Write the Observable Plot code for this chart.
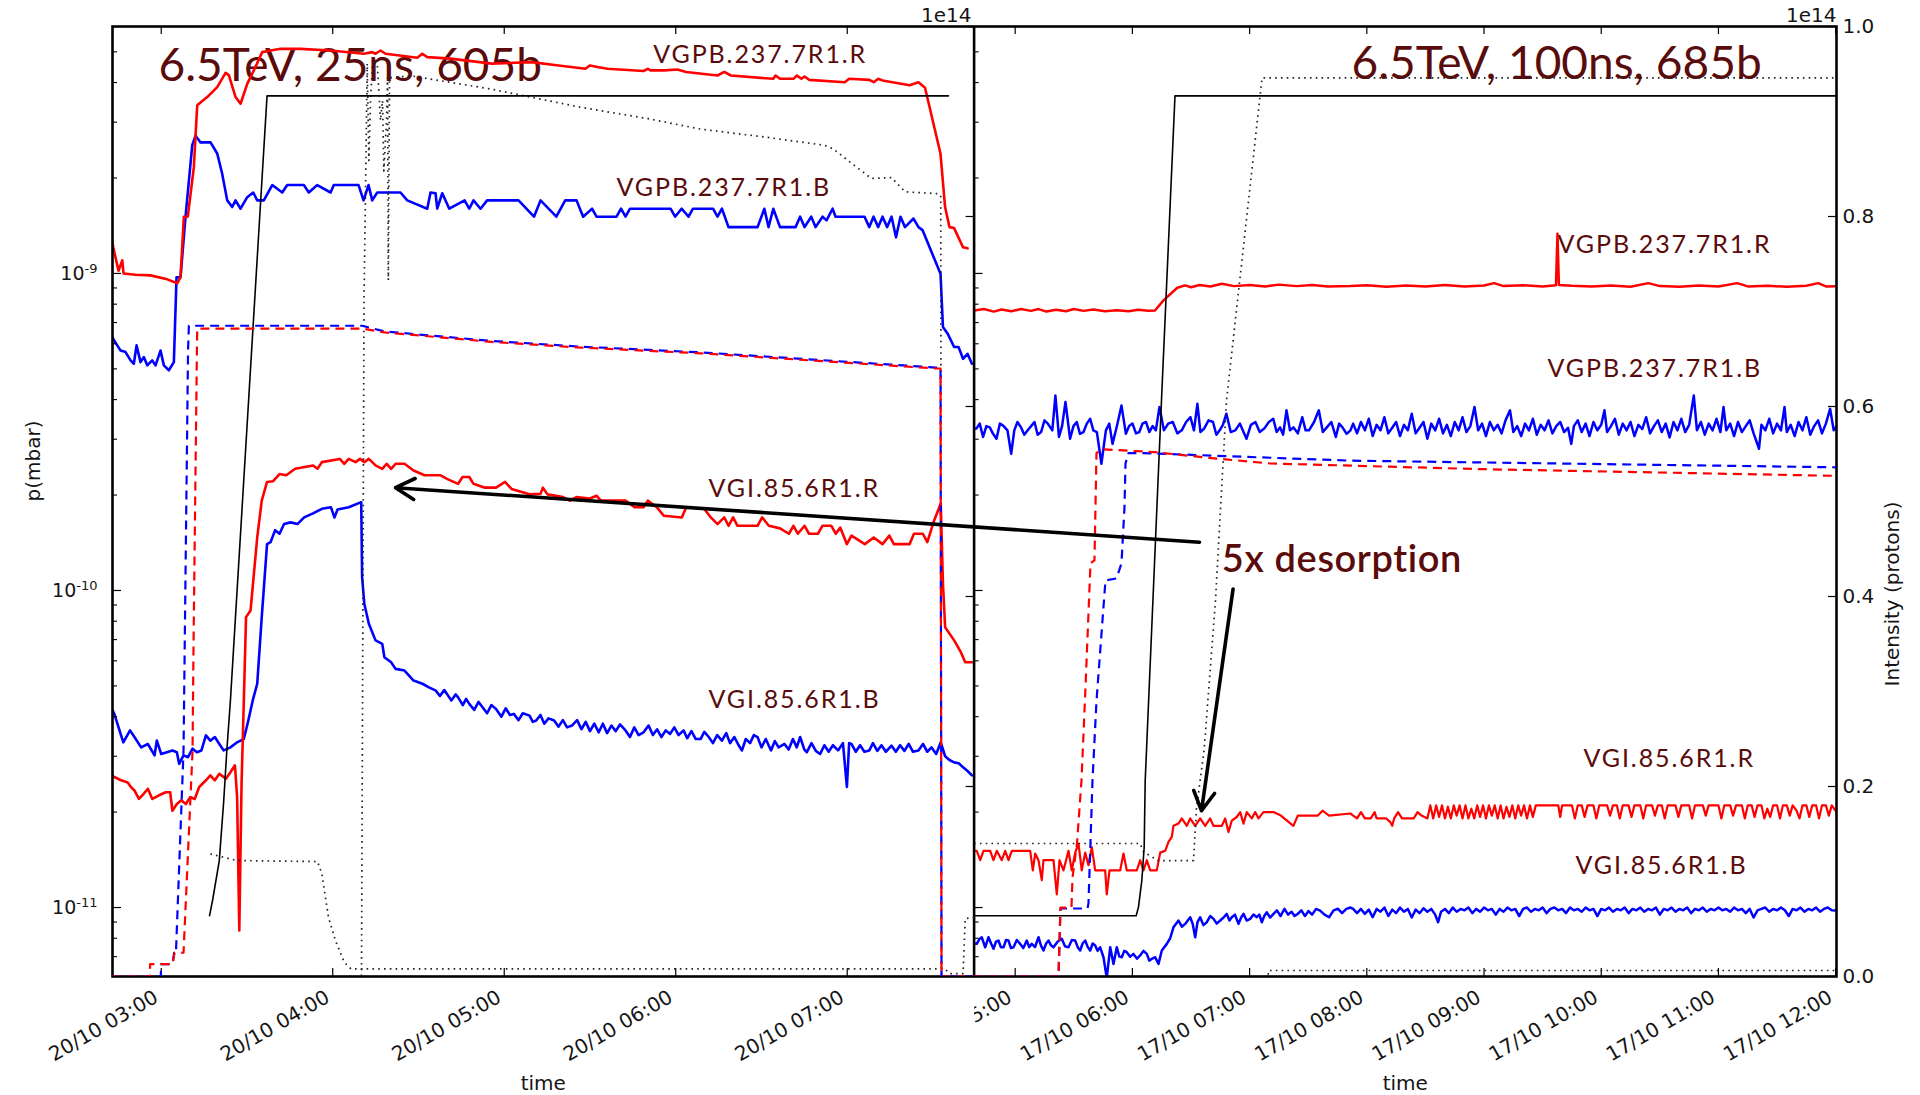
<!DOCTYPE html>
<html>
<head>
<meta charset="utf-8">
<title>Vacuum pressure and beam intensity</title>
<script src="https://cdn.jsdelivr.net/npm/d3@7"></script>
<script src="https://cdn.jsdelivr.net/npm/@observablehq/plot@0.6"></script>
<style>
html,body{margin:0;padding:0;background:#fff;}
#chart{position:relative;width:1920px;height:1095px;overflow:hidden;background:#fff;}
#chart svg{position:absolute;left:0;top:0;max-width:none;}
</style>
</head>
<body>
<div id="chart"></div>
<script>
// ---------------- data (time "HH:MM:SS" value pairs) ----------------
const S = str => { const t = str.trim().split(/\s+/), a = []; for (let i = 0; i < t.length; i += 2) a.push([t[i], +t[i + 1]]); return a; };

const dayL = "2015-10-20", dayR = "2015-10-17";
const domainL = ["02:42:57", "07:44:23"], domainR = ["04:38:58", "12:00:26"];
const ticksL = ["03:00", "04:00", "05:00", "06:00", "07:00"];
const ticksR = ["05:00", "06:00", "07:00", "08:00", "09:00", "10:00", "11:00", "12:00"];
const pDomain = [6.06e-12, 6.01e-9];
const logMajor = [1e-11, 1e-10, 1e-9];
const logMajorLabels = ["10^-11", "10^-10", "10^-9"];
const logMinor = [7e-12, 8e-12, 9e-12, 2e-11, 3e-11, 4e-11, 5e-11, 6e-11, 7e-11, 8e-11, 9e-11,
  2e-10, 3e-10, 4e-10, 5e-10, 6e-10, 7e-10, 8e-10, 9e-10, 2e-9, 3e-9, 4e-9, 5e-9];
const intTicks = [0, 0.2, 0.4, 0.6, 0.8, 1.0];
const intTickLabels = ["0.0", "0.2", "0.4", "0.6", "0.8", "1.0"];

// ---- 20/10, 25 ns, 605 bunches: pressures (mbar)
const L_VGPB_R = S(`02:42:57 1.25e-9 02:43:12 1.21e-9 02:45:04 1.02e-9 02:46:22 1.10e-9 02:46:49 1.00e-9 02:51:00 9.9e-10 02:56:15 9.86e-10 03:02:06 9.58e-10 03:05:36 9.31e-10 03:06:45 9.73e-10 03:07:55 1.51e-9 03:09:18 1.51e-9 03:11:24 2.16e-9 03:12:35 3.39e-9 03:16:05 3.60e-9 03:19:35 3.87e-9 03:22:30 4.29e-9 03:23:39 4.22e-9 03:26:00 3.60e-9 03:27:45 3.43e-9 03:30:05 3.96e-9 03:32:24 4.37e-9 03:35:20 4.99e-9 03:38:14 5.05e-9 03:41:44 5.11e-9 03:48:44 5.11e-9 03:59:14 5.05e-9 04:10:53 4.93e-9 04:13:49 4.99e-9 04:14:58 4.93e-9 04:16:43 5.05e-9 04:18:28 4.93e-9 04:29:34 4.79e-9 04:31:19 4.93e-9 04:33:04 4.81e-9 04:41:13 4.76e-9 04:55:36 4.59e-9 05:09:33 4.64e-9 05:19:00 4.53e-9 05:28:22 4.42e-9 05:29:57 4.53e-9 05:33:04 4.47e-9 05:36:08 4.42e-9 05:48:44 4.35e-9 05:50:14 4.42e-9 05:51:11 4.37e-9 05:55:52 4.37e-9 06:00:33 4.40e-9 06:03:40 4.32e-9 06:14:37 4.21e-9 06:16:58 4.32e-9 06:19:19 4.21e-9 06:34:08 4.11e-9 06:34:55 4.21e-9 06:36:29 4.11e-9 06:41:10 4.11e-9 06:42:24 4.21e-9 06:43:58 4.11e-9 06:45:04 4.18e-9 06:46:38 4.08e-9 06:59:07 4.01e-9 07:00:41 4.11e-9 07:07:43 4.08e-9 07:09:16 4.01e-9 07:10:50 4.11e-9 07:12:21 4.06e-9 07:21:48 3.92e-9 07:24:55 4.01e-9 07:27:13 3.85e-9 07:32:37 2.39e-9 07:34:14 1.62e-9 07:35:46 1.40e-9 07:37:23 1.39e-9 07:40:30 1.21e-9 07:42:06 1.20e-9`);

const L_VGPB_B = S(`02:42:57 6.3e-10 02:43:12 6.22e-10 02:45:46 5.71e-10 02:47:31 5.65e-10 02:49:16 5.32e-10 02:50:25 5.19e-10 02:51:22 5.93e-10 02:52:45 5.25e-10 02:53:55 5.45e-10 02:55:06 5.13e-10 02:56:51 5.32e-10 02:58:00 5.13e-10 02:59:45 5.71e-10 03:00:55 5.13e-10 03:02:40 4.95e-10 03:04:25 5.25e-10 03:05:21 9.73e-10 03:06:45 9.73e-10 03:08:30 1.51e-9 03:10:51 2.54e-9 03:12:00 2.72e-9 03:13:45 2.59e-9 03:17:15 2.59e-9 03:19:35 2.39e-9 03:21:20 2.06e-9 03:23:05 1.70e-9 03:24:50 1.62e-9 03:26:00 1.70e-9 03:27:45 1.60e-9 03:30:05 1.74e-9 03:32:11 1.80e-9 03:33:35 1.70e-9 03:35:53 1.70e-9 03:38:50 1.90e-9 03:42:20 1.80e-9 03:44:05 1.90e-9 03:49:53 1.90e-9 03:51:38 1.80e-9 03:54:35 1.90e-9 03:59:14 1.80e-9 04:00:23 1.90e-9 04:09:02 1.90e-9 04:10:47 1.70e-9 04:12:31 1.90e-9 04:13:49 1.70e-9 04:15:34 1.80e-9 04:23:43 1.80e-9 04:26:04 1.70e-9 04:33:04 1.60e-9 04:34:13 1.80e-9 04:35:58 1.79e-9 04:36:34 1.60e-9 04:38:19 1.79e-9 04:40:46 1.60e-9 04:46:07 1.70e-9 04:47:46 1.60e-9 04:49:15 1.70e-9 04:51:42 1.60e-9 04:54:01 1.70e-9 05:05:00 1.70e-9 05:10:25 1.51e-9 05:12:42 1.70e-9 05:18:14 1.51e-9 05:21:20 1.70e-9 05:25:18 1.70e-9 05:27:36 1.51e-9 05:30:43 1.60e-9 05:32:17 1.51e-9 05:39:17 1.51e-9 05:40:52 1.60e-9 05:42:26 1.51e-9 05:44:00 1.60e-9 05:58:11 1.60e-9 05:59:47 1.51e-9 06:02:02 1.60e-9 06:04:29 1.51e-9 06:06:01 1.60e-9 06:13:03 1.60e-9 06:14:37 1.51e-9 06:16:10 1.60e-9 06:18:28 1.40e-9 06:28:37 1.40e-9 06:31:00 1.60e-9 06:32:28 1.40e-9 06:34:08 1.60e-9 06:36:29 1.40e-9 06:41:55 1.40e-9 06:43:31 1.51e-9 06:45:04 1.40e-9 06:47:24 1.51e-9 06:48:55 1.40e-9 06:51:22 1.51e-9 06:52:46 1.47e-9 06:54:52 1.60e-9 06:55:55 1.51e-9 07:06:03 1.51e-9 07:07:43 1.40e-9 07:09:12 1.51e-9 07:10:50 1.40e-9 07:12:21 1.51e-9 07:13:58 1.40e-9 07:15:30 1.51e-9 07:17:04 1.30e-9 07:18:38 1.51e-9 07:20:13 1.40e-9 07:23:11 1.49e-9 07:24:56 1.40e-9 07:26:20 1.37e-9 07:32:38 9.98e-10 07:33:29 6.78e-10 07:35:05 6.47e-10 07:37:24 5.86e-10 07:38:56 5.86e-10 07:40:31 5.38e-10 07:42:05 5.58e-10 07:43:37 5.19e-10`);

const L_VGI_R = S(`02:42:57 2.6e-11 02:43:35 2.58e-11 02:45:56 2.52e-11 02:48:17 2.48e-11 02:49:24 2.40e-11 02:50:37 2.34e-11 02:52:12 2.20e-11 02:53:46 2.28e-11 02:55:19 2.37e-11 02:56:53 2.20e-11 02:59:14 2.26e-11 03:01:34 2.31e-11 03:03:07 2.31e-11 03:03:55 2.02e-11 03:05:28 2.12e-11 03:07:02 2.18e-11 03:08:36 2.12e-11 03:10:09 2.23e-11 03:11:43 2.20e-11 03:13:18 2.40e-11 03:15:38 2.52e-11 03:17:11 2.61e-11 03:18:45 2.52e-11 03:20:19 2.64e-11 03:22:38 2.55e-11 03:24:13 2.67e-11 03:25:47 2.81e-11 03:26:33 2.23e-11 03:27:19 8.46e-12 03:28:06 2.46e-11 03:28:54 4.50e-11 03:29:40 8.24e-11 03:31:15 8.65e-11 03:33:35 1.47e-10 03:35:10 1.92e-10 03:37:01 2.20e-10 03:39:03 2.21e-10 03:41:23 2.33e-10 03:43:44 2.31e-10 03:46:51 2.42e-10 03:53:06 2.48e-10 03:54:41 2.42e-10 03:56:13 2.54e-10 04:02:29 2.60e-10 04:04:02 2.51e-10 04:05:36 2.60e-10 04:07:59 2.54e-10 04:09:31 2.60e-10 04:11:03 2.54e-10 04:12:38 2.60e-10 04:14:58 2.48e-10 04:17:19 2.42e-10 04:18:53 2.51e-10 04:20:26 2.42e-10 04:21:58 2.51e-10 04:25:07 2.51e-10 04:28:16 2.39e-10 04:32:07 2.31e-10 04:37:36 2.31e-10 04:39:57 2.25e-10 04:43:52 2.17e-10 04:45:25 2.28e-10 04:47:46 2.28e-10 04:49:15 2.17e-10 04:53:15 2.11e-10 04:57:08 2.11e-10 05:00:17 2.20e-10 05:02:33 2.09e-10 05:08:51 2.01e-10 05:12:42 2.02e-10 05:13:32 2.11e-10 05:15:07 2.01e-10 05:20:34 1.97e-10 05:22:55 1.92e-10 05:25:15 1.97e-10 05:29:57 1.95e-10 05:32:17 1.99e-10 05:33:50 1.92e-10 05:42:26 1.92e-10 05:45:35 1.83e-10 05:48:44 1.83e-10 05:50:14 1.92e-10 05:53:22 1.83e-10 05:55:52 1.72e-10 06:02:07 1.70e-10 06:03:40 1.83e-10 06:09:56 1.81e-10 06:12:17 1.70e-10 06:14:37 1.62e-10 06:16:58 1.70e-10 06:18:28 1.60e-10 06:20:05 1.70e-10 06:21:37 1.60e-10 06:28:37 1.60e-10 06:30:13 1.70e-10 06:32:34 1.60e-10 06:36:29 1.57e-10 06:39:36 1.51e-10 06:41:10 1.60e-10 06:42:43 1.51e-10 06:45:04 1.60e-10 06:46:38 1.51e-10 06:49:44 1.51e-10 06:51:19 1.60e-10 06:54:26 1.60e-10 06:56:00 1.51e-10 06:57:33 1.58e-10 06:59:53 1.40e-10 07:01:28 1.49e-10 07:06:09 1.40e-10 07:09:16 1.47e-10 07:12:21 1.40e-10 07:14:44 1.49e-10 07:16:18 1.40e-10 07:21:48 1.40e-10 07:23:20 1.51e-10 07:26:27 1.51e-10 07:28:01 1.42e-10 07:30:22 1.66e-10 07:32:43 1.88e-10 07:33:29 1.05e-10 07:34:15 7.66e-11 07:37:24 6.96e-11 07:39:45 6.39e-11 07:41:17 5.94e-11 07:43:37 5.94e-11`);

const L_VGI_B = S(`02:42:57 4.2e-11 02:43:35 4.08e-11 02:46:44 3.32e-11 02:49:05 3.62e-11 02:50:37 3.45e-11 02:52:58 3.20e-11 02:55:19 3.28e-11 02:57:40 3.02e-11 02:58:27 3.36e-11 03:00:00 3.05e-11 03:03:55 3.13e-11 03:05:28 3.09e-11 03:06:16 2.84e-11 03:07:48 3.02e-11 03:09:23 2.98e-11 03:10:57 3.17e-11 03:12:29 3.09e-11 03:14:04 3.13e-11 03:15:38 3.49e-11 03:17:11 3.36e-11 03:18:45 3.45e-11 03:20:19 3.28e-11 03:21:52 3.13e-11 03:24:13 3.20e-11 03:26:33 3.32e-11 03:28:54 3.40e-11 03:30:28 3.89e-11 03:32:01 4.50e-11 03:33:35 5.08e-11 03:35:10 8.24e-11 03:37:01 1.40e-10 03:38:14 1.42e-10 03:39:51 1.55e-10 03:41:23 1.51e-10 03:42:58 1.62e-10 03:45:18 1.64e-10 03:47:39 1.62e-10 03:50:00 1.70e-10 03:53:06 1.75e-10 03:56:13 1.81e-10 03:59:22 1.83e-10 04:00:35 1.70e-10 04:01:41 1.80e-10 04:05:36 1.83e-10 04:09:58 1.90e-10 04:10:17 1.10e-10 04:11:03 9.08e-11 04:12:38 7.85e-11 04:14:58 6.96e-11 04:17:19 6.79e-11 04:18:05 6.16e-11 04:20:26 5.94e-11 04:21:58 5.66e-11 04:25:07 5.59e-11 04:28:16 5.20e-11 04:31:23 5.08e-11 04:33:40 4.95e-11 04:36:04 4.83e-11 04:37:30 4.65e-11 04:39:00 4.85e-11 04:39:57 4.72e-11 04:41:30 4.50e-11 04:43:00 4.70e-11 04:43:52 4.60e-11 04:45:30 4.35e-11 04:46:40 4.55e-11 04:47:46 4.39e-11 04:49:30 4.20e-11 04:51:00 4.45e-11 04:52:25 4.28e-11 04:54:00 4.10e-11 04:55:30 4.35e-11 04:57:08 4.23e-11 04:59:00 4.00e-11 05:00:30 4.25e-11 05:02:00 4.05e-11 05:03:23 4.08e-11 05:05:00 3.90e-11 05:06:30 4.10e-11 05:08:51 4.03e-11 05:10:00 3.85e-11 05:11:11 3.89e-11 05:12:40 4.05e-11 05:14:00 3.80e-11 05:15:30 3.95e-11 05:17:28 3.89e-11 05:19:00 3.72e-11 05:20:30 3.90e-11 05:22:00 3.70e-11 05:23:41 3.75e-11 05:25:30 3.90e-11 05:27:00 3.65e-11 05:28:30 3.85e-11 05:30:00 3.60e-11 05:31:30 3.80e-11 05:33:04 3.57e-11 05:34:30 3.80e-11 05:36:00 3.55e-11 05:37:30 3.75e-11 05:39:00 3.60e-11 05:40:30 3.78e-11 05:42:26 3.62e-11 05:44:00 3.45e-11 05:45:30 3.70e-11 05:47:00 3.50e-11 05:48:44 3.57e-11 05:50:30 3.75e-11 05:52:00 3.50e-11 05:53:30 3.65e-11 05:55:00 3.45e-11 05:56:30 3.62e-11 05:58:02 3.53e-11 05:59:30 3.70e-11 06:01:00 3.50e-11 06:02:44 3.62e-11 06:04:00 3.42e-11 06:05:30 3.60e-11 06:07:00 3.40e-11 06:08:41 3.40e-11 06:10:00 3.58e-11 06:11:33 3.45e-11 06:13:00 3.30e-11 06:14:30 3.50e-11 06:16:10 3.36e-11 06:17:40 3.55e-11 06:19:00 3.30e-11 06:20:30 3.45e-11 06:22:00 3.25e-11 06:23:11 3.13e-11 06:24:30 3.40e-11 06:26:00 3.30e-11 06:27:20 3.50e-11 06:28:37 3.45e-11 06:30:00 3.20e-11 06:31:30 3.40e-11 06:33:20 3.13e-11 06:34:40 3.35e-11 06:36:00 3.20e-11 06:38:04 3.28e-11 06:39:30 3.15e-11 06:41:00 3.40e-11 06:42:20 3.20e-11 06:43:31 3.45e-11 06:45:00 3.15e-11 06:45:51 3.09e-11 06:47:30 3.30e-11 06:49:00 3.12e-11 06:50:31 3.05e-11 06:52:00 3.25e-11 06:53:30 3.10e-11 06:55:00 3.25e-11 06:56:47 3.13e-11 06:58:30 3.30e-11 06:59:53 2.40e-11 07:00:40 3.30e-11 07:01:28 3.28e-11 07:03:00 3.10e-11 07:04:30 3.25e-11 07:06:00 3.10e-11 07:07:43 3.13e-11 07:09:00 3.30e-11 07:10:30 3.12e-11 07:12:00 3.25e-11 07:13:30 3.10e-11 07:15:30 3.24e-11 07:17:00 3.10e-11 07:18:30 3.25e-11 07:20:00 3.12e-11 07:21:30 3.28e-11 07:23:00 3.10e-11 07:24:55 3.13e-11 07:26:30 3.28e-11 07:28:00 3.10e-11 07:29:30 3.20e-11 07:31:08 3.05e-11 07:32:43 3.32e-11 07:34:15 3.00e-11 07:35:46 2.92e-11 07:37:24 2.87e-11 07:39:00 2.85e-11 07:40:31 2.77e-11 07:42:00 2.70e-11 07:43:37 2.61e-11`);

// ---- 20/10: read on the intensity axis (units of 1e14)
const L_B1 = S(`02:42:57 0 02:56:00 0 02:56:07 0.013 03:03:55 0.013 03:04:41 0.025 03:07:48 0.025 03:10:57 0.237 03:11:18 0.35 03:12:29 0.659 03:12:36 0.682 04:10:17 0.682 04:18:07 0.678 04:55:36 0.668 05:26:41 0.662 06:08:41 0.656 07:31:08 0.640 07:32:38 0.640 07:32:59 0 07:44:23 0`);
const L_B2 = S(`02:42:57 0 02:59:50 0 03:00:00 0.013 03:04:00 0.013 03:04:30 0.025 03:05:08 0.024 03:07:48 0.238 03:09:23 0.659 03:09:40 0.685 04:10:17 0.685 04:18:07 0.679 04:55:36 0.669 05:26:41 0.663 06:08:41 0.657 07:31:08 0.641 07:32:38 0.641 07:32:59 0 07:44:23 0`);
const L_ENERGY = S(`03:16:54 0.064 03:17:57 0.080 03:20:19 0.122 03:21:52 0.185 03:22:57 0.238 03:24:13 0.291 03:37:01 0.927 07:35:26 0.927`);
const L_DOT_A = S(`03:17:11 0.129 03:26:33 0.122 03:54:41 0.121 03:56:13 0.108 03:58:32 0.062 04:00:55 0.038 04:04:02 0.015 04:06:22 0.008 07:34:15 0.008 07:35:46 0.003 07:40:31 0.003 07:41:17 0.061 07:44:23 0.062`);
const L_DOT_B = S(`02:42:57 0 04:10:04 0 04:10:57 0.712 04:12:04 0.961 04:12:38 0.859 04:13:13 0.922 04:13:55 0.961 04:15:34 0.961 04:16:43 0.901 04:17:25 0.922 04:17:53 0.848 04:18:49 0.901 04:19:11 0.946 04:19:27 0.733 04:19:52 0.946 04:27:28 0.948 04:55:36 0.934 05:26:41 0.915 05:50:14 0.903 06:08:41 0.892 06:30:13 0.884 06:52:03 0.875 06:55:12 0.871 07:01:30 0.856 07:08:29 0.840 07:15:30 0.841 07:20:13 0.826 07:31:56 0.824 07:32:43 0.822 07:32:59 0 07:44:23 0`);

// ---- 17/10, 100 ns, 685 bunches: pressures (mbar)
const R_VGPB_R = S(`04:38:58 7.64e-10 04:44:00 7.72e-10 04:49:00 7.58e-10 04:53:00 7.70e-10 04:58:00 7.60e-10 05:03:00 7.72e-10 05:08:00 7.62e-10 05:12:00 7.72e-10 05:16:00 7.58e-10 05:21:00 7.68e-10 05:26:00 7.60e-10 05:30:00 7.72e-10 05:35:00 7.62e-10 05:40:00 7.70e-10 05:46:00 7.60e-10 05:52:00 7.66e-10 05:58:00 7.60e-10 06:03:00 7.68e-10 06:08:00 7.62e-10 06:11:34 7.64e-10 06:15:55 8.22e-10 06:22:59 9.01e-10 06:27:00 9.17e-10 06:30:00 9.05e-10 06:34:21 9.20e-10 06:40:00 9.10e-10 06:45:49 9.28e-10 06:52:00 9.12e-10 07:00:00 9.20e-10 07:08:00 9.10e-10 07:15:00 9.22e-10 07:24:00 9.12e-10 07:32:00 9.20e-10 07:40:00 9.10e-10 07:51:38 9.12e-10 08:00:00 9.18e-10 08:10:00 9.08e-10 08:20:00 9.16e-10 08:30:00 9.10e-10 08:40:00 9.20e-10 08:50:00 9.10e-10 09:00:00 9.16e-10 09:05:12 9.32e-10 09:10:00 9.12e-10 09:20:00 9.18e-10 09:30:00 9.10e-10 09:36:50 9.17e-10 09:37:36 1.334e-9 09:38:20 9.20e-10 09:45:00 9.14e-10 09:55:00 9.10e-10 10:05:00 9.16e-10 10:15:00 9.08e-10 10:24:06 9.32e-10 10:30:00 9.12e-10 10:40:00 9.08e-10 10:50:00 9.16e-10 11:00:00 9.10e-10 11:09:36 9.32e-10 11:15:00 9.10e-10 11:25:00 9.14e-10 11:35:00 9.08e-10 11:45:00 9.14e-10 11:51:06 9.32e-10 11:55:00 9.10e-10 12:00:26 9.12e-10`);

const R_VGPB_B = S(`04:38:58 3.24e-10 04:40:08 3.24e-10 04:41:50 3.36e-10 04:43:34 3.05e-10 04:45:15 3.30e-10 04:47:00 3.27e-10 04:48:40 3.12e-10 04:50:26 3.01e-10 04:52:10 3.36e-10 04:53:51 3.31e-10 04:56:03 3.20e-10 04:57:57 2.70e-10 04:59:32 3.20e-10 05:01:10 3.40e-10 05:02:58 3.27e-10 05:04:40 3.10e-10 05:06:24 3.20e-10 05:08:10 3.30e-10 05:09:53 3.40e-10 05:11:30 3.10e-10 05:13:16 3.16e-10 05:15:00 3.44e-10 05:16:41 3.36e-10 05:19:00 3.20e-10 05:20:35 4.12e-10 05:22:25 3.05e-10 05:24:00 3.30e-10 05:25:45 3.93e-10 05:28:06 3.01e-10 05:29:50 3.30e-10 05:31:32 3.40e-10 05:33:10 3.12e-10 05:34:58 3.16e-10 05:36:40 3.36e-10 05:38:23 3.48e-10 05:40:00 3.20e-10 05:41:49 3.16e-10 05:44:08 2.51e-10 05:46:26 3.20e-10 05:48:10 3.36e-10 05:49:49 2.90e-10 05:52:07 3.31e-10 05:54:25 3.83e-10 05:56:40 3.12e-10 05:58:20 3.30e-10 06:00:03 3.36e-10 06:01:50 3.13e-10 06:03:32 3.16e-10 06:05:10 3.36e-10 06:06:58 3.40e-10 06:08:40 3.16e-10 06:10:20 3.30e-10 06:12:00 3.20e-10 06:13:52 3.79e-10 06:16:07 3.20e-10 06:18:20 3.36e-10 06:20:41 3.40e-10 06:23:00 3.13e-10 06:25:16 3.20e-10 06:27:30 3.40e-10 06:29:44 3.52e-10 06:31:30 3.20e-10 06:33:16 3.88e-10 06:34:50 3.16e-10 06:36:42 3.24e-10 06:39:00 3.44e-10 06:41:15 3.40e-10 06:43:00 3.10e-10 06:44:41 3.20e-10 06:46:20 3.33e-10 06:48:07 3.61e-10 06:50:20 3.16e-10 06:52:40 3.20e-10 06:55:00 3.36e-10 06:58:24 3.01e-10 07:00:40 3.33e-10 07:02:58 3.40e-10 07:05:10 3.16e-10 07:07:31 3.24e-10 07:09:50 3.40e-10 07:12:07 3.48e-10 07:13:50 3.16e-10 07:15:33 3.27e-10 07:17:10 3.10e-10 07:18:53 3.70e-10 07:20:40 3.20e-10 07:22:25 3.27e-10 07:24:40 3.13e-10 07:26:58 3.52e-10 07:28:40 3.20e-10 07:30:24 3.20e-10 07:33:00 3.40e-10 07:35:25 3.70e-10 07:37:30 3.16e-10 07:39:31 3.27e-10 07:41:50 3.40e-10 07:44:07 3.05e-10 07:45:50 3.36e-10 07:47:33 3.27e-10 07:49:40 3.12e-10 07:51:38 3.20e-10
07:53 3.36e-10 07:55 3.13e-10 07:57 3.40e-10 07:59 3.20e-10 08:01 3.48e-10 08:03 3.07e-10 08:05 3.33e-10 08:07 3.20e-10 08:09 3.52e-10 08:11 3.13e-10 08:13 3.26e-10 08:15 3.40e-10 08:17 3.07e-10 08:19 3.33e-10 08:21 3.20e-10 08:23 3.61e-10 08:25 3.13e-10 08:27 3.26e-10 08:29 3.40e-10 08:31 3.01e-10 08:33 3.36e-10 08:35 3.20e-10 08:37 3.48e-10 08:39 3.13e-10 08:41 3.33e-10 08:43 3.07e-10 08:45 3.40e-10 08:47 3.20e-10 08:49 3.52e-10 08:51 3.16e-10 08:53 3.30e-10 08:55:07 3.79e-10 08:57 3.20e-10 08:59 3.36e-10 09:01 3.07e-10 09:03 3.40e-10 09:05 3.20e-10 09:07 3.33e-10 09:09 3.13e-10 09:11 3.44e-10 09:13:18 3.70e-10 09:15 3.16e-10 09:17 3.30e-10 09:19 3.07e-10 09:21 3.36e-10 09:23 3.20e-10 09:25 3.48e-10 09:27 3.10e-10 09:29 3.33e-10 09:31 3.20e-10 09:33 3.44e-10 09:35 3.13e-10 09:37 3.30e-10 09:39 3.40e-10 09:41 3.16e-10 09:43 3.26e-10 09:44:40 2.90e-10 09:46 3.30e-10 09:48 3.44e-10 09:50 3.16e-10 09:52 3.36e-10 09:54 3.07e-10 09:56 3.40e-10 09:58 3.20e-10 10:00 3.33e-10 10:01:40 3.70e-10 10:03 3.16e-10 10:05 3.30e-10 10:07 3.48e-10 10:09 3.10e-10 10:11 3.36e-10 10:13 3.20e-10 10:15 3.40e-10 10:17 3.07e-10 10:19 3.33e-10 10:21 3.23e-10 10:23 3.52e-10 10:25 3.13e-10 10:27 3.30e-10 10:29 3.44e-10 10:31 3.16e-10 10:33 3.36e-10 10:35 3.04e-10 10:37 3.40e-10 10:39 3.20e-10 10:41 3.48e-10 10:43 3.16e-10 10:45 3.33e-10 10:47:23 4.12e-10 10:49 3.20e-10 10:51 3.40e-10 10:53 3.10e-10 10:55 3.36e-10 10:57 3.20e-10 10:59 3.48e-10 11:01 3.16e-10 11:02:36 3.79e-10 11:04 3.20e-10 11:06 3.36e-10 11:08 3.07e-10 11:10 3.40e-10 11:12 3.16e-10 11:14 3.30e-10 11:16 3.44e-10 11:18 3.13e-10 11:20:46 2.80e-10 11:22 3.33e-10 11:24 3.20e-10 11:26 3.48e-10 11:28 3.13e-10 11:30 3.36e-10 11:32 3.20e-10 11:33:50 3.79e-10 11:35 3.16e-10 11:37 3.33e-10 11:39 3.07e-10 11:41 3.40e-10 11:43 3.20e-10 11:45 3.52e-10 11:47 3.10e-10 11:49 3.30e-10 11:51 3.44e-10 11:53 3.13e-10 11:55 3.36e-10 11:57:10 3.74e-10 11:59 3.20e-10 12:00:26 3.30e-10`);

const R_VGI_R = S(`04:38:58 1.51e-11 04:40:20 1.51e-11 04:42:05 1.41e-11 04:43:46 1.51e-11 04:47:12 1.51e-11 04:48:53 1.41e-11 04:50:35 1.51e-11 04:53:08 1.41e-11 04:54:53 1.51e-11 04:56:34 1.41e-11 04:58:16 1.51e-11 05:07:41 1.51e-11 05:09:01 1.31e-11 05:10:14 1.48e-11 05:11:56 1.41e-11 05:13:37 1.22e-11 05:14:29 1.41e-11 05:19:37 1.41e-11 05:21:18 1.10e-11 05:22:41 1.41e-11 05:24:44 1.31e-11 05:27:17 1.51e-11 05:28:58 1.31e-11 05:30:43 1.49e-11 05:32:24 1.59e-11 05:34:05 1.31e-11 05:35:50 1.49e-11 05:37:31 1.36e-11 05:39:13 1.55e-11 05:40:57 1.31e-11 05:46:04 1.31e-11 05:46:53 1.10e-11 05:48:16 1.31e-11 05:53:45 1.31e-11 05:55:26 1.48e-11 05:57:08 1.31e-11 06:02:15 1.31e-11 06:03:59 1.41e-11 06:05:41 1.31e-11 06:07:22 1.41e-11 06:09:07 1.31e-11 06:12:29 1.31e-11 06:14:14 1.49e-11 06:16:47 1.51e-11 06:18:29 1.61e-11 06:20:10 1.67e-11 06:21:02 1.81e-11 06:23:36 1.84e-11 06:25:17 1.91e-11 06:27:51 1.81e-11 06:29:35 1.91e-11 06:32:09 1.81e-11 06:34:42 1.91e-11 06:37:16 1.81e-11 06:39:49 1.91e-11 06:41:31 1.81e-11 06:45:46 1.81e-11 06:47:30 1.91e-11 06:49:11 1.73e-11 06:50:53 1.88e-11 06:53:26 1.93e-11 06:55:11 2.00e-11 06:56:52 1.84e-11 06:58:33 2.00e-11 07:01:07 1.91e-11 07:02:51 2.00e-11 07:04:33 1.91e-11 07:07:06 2.00e-11 07:12:14 2.00e-11 07:16:00 1.95e-11 07:22:25 1.81e-11 07:24:40 1.95e-11 07:34:57 1.95e-11 07:37:19 2.02e-11 07:40:41 1.95e-11 07:51:38 1.98e-11
07:53 1.95e-11 07:55 1.91e-11 07:57 2.00e-11 07:59 1.91e-11 08:02 1.91e-11 08:04 2.00e-11 08:05 1.91e-11 08:10 1.91e-11 08:12 1.86e-11 08:13 1.81e-11 08:14 1.91e-11 08:16 2.00e-11 08:18 1.91e-11 08:24 1.91e-11 08:26 2.00e-11 08:28 1.95e-11 08:31 1.91e-11
08:32:30 2.10e-11 08:34 1.91e-11 08:35:30 2.10e-11 08:37 1.93e-11 08:38:30 2.10e-11 08:40 1.91e-11 08:41:30 2.08e-11 08:43 1.91e-11 08:44:30 2.10e-11 08:46 1.95e-11 08:47:30 2.10e-11 08:49 1.91e-11 08:50:30 2.10e-11 08:52 1.91e-11 08:53:30 2.05e-11 08:55 1.91e-11 08:56:30 2.10e-11 08:58 1.93e-11 08:59:30 2.10e-11 09:01 1.91e-11 09:02:30 2.10e-11 09:04 1.95e-11 09:05:30 2.10e-11 09:07 1.91e-11 09:08:30 2.10e-11 09:10 1.91e-11 09:11:30 2.08e-11 09:13 1.93e-11 09:14:30 2.10e-11 09:16 1.91e-11 09:17:30 2.10e-11 09:19 1.95e-11 09:20:30 2.10e-11 09:22 1.91e-11 09:23:30 2.10e-11 09:25 1.93e-11 09:26:30 2.10e-11
09:38 2.10e-11 09:39 1.93e-11 09:40 2.10e-11 09:45 2.10e-11 09:46:30 1.91e-11 09:48 2.10e-11 09:50 2.10e-11 09:51:30 1.93e-11 09:53 2.10e-11 09:56 2.10e-11 09:57:30 1.91e-11 09:59 2.10e-11 10:03 2.10e-11 10:04:30 1.95e-11 10:06 2.10e-11 10:08 2.10e-11 10:09:30 1.91e-11 10:11 2.10e-11 10:14 2.10e-11 10:15:30 1.93e-11 10:17 2.10e-11 10:20 2.10e-11 10:21:30 1.91e-11 10:23 2.10e-11 10:26 2.10e-11 10:27:30 1.95e-11 10:29 2.10e-11 10:31 2.10e-11 10:32:30 1.91e-11 10:34 2.10e-11 10:38 2.10e-11 10:39:30 1.93e-11 10:41 2.10e-11 10:45 2.10e-11 10:46:30 1.91e-11 10:48 2.10e-11 10:52 2.10e-11 10:53:30 1.95e-11 10:55 2.10e-11 11:00 2.10e-11 11:01:30 1.91e-11 11:03 2.10e-11 11:06 2.10e-11 11:07:30 1.95e-11 11:09 2.10e-11 11:12 2.10e-11 11:13:30 1.91e-11 11:15 2.10e-11 11:17 2.10e-11 11:18:30 1.93e-11 11:20 2.10e-11 11:22 2.10e-11 11:23:30 1.91e-11 11:25 2.05e-11 11:26:30 1.93e-11 11:28 2.10e-11 11:30 2.10e-11 11:31:30 1.91e-11 11:33 2.10e-11 11:35 2.10e-11 11:36:30 1.95e-11 11:38 2.10e-11 11:40 2.02e-11 11:41:30 1.91e-11 11:43 2.10e-11 11:45 2.10e-11 11:46:30 1.93e-11 11:48 2.10e-11 11:50 2.10e-11 11:51:30 1.91e-11 11:53 2.10e-11 11:55 2.10e-11 11:56:30 1.95e-11 11:58 2.10e-11 12:00:26 2.00e-11`);

const R_VGI_B = S(`04:38:58 7.7e-12 04:40:20 7.68e-12 04:41:40 7.95e-12 04:42:54 8.06e-12 04:44:38 7.49e-12 04:46:20 8.06e-12 04:47:40 7.7e-12 04:48:53 7.41e-12 04:50:10 7.8e-12 04:51:27 7.87e-12 04:52:40 7.5e-12 04:54:01 7.49e-12 04:55:20 7.9e-12 04:56:34 7.87e-12 04:57:50 7.45e-12 04:59:08 7.49e-12 05:00:50 7.9e-12 05:02:34 7.68e-12 05:04:10 7.45e-12 05:05:56 7.87e-12 05:07:10 7.5e-12 05:08:30 7.68e-12 05:10:10 7.5e-12 05:11:56 8.06e-12 05:13:10 7.6e-12 05:14:29 7.32e-12 05:15:50 7.7e-12 05:17:03 7.87e-12 05:18:20 7.6e-12 05:19:37 7.49e-12 05:21:40 7.8e-12 05:23:51 7.97e-12 05:25:30 7.55e-12 05:27:17 7.49e-12 05:29:00 7.9e-12 05:30:43 7.87e-12 05:32:00 7.5e-12 05:33:16 7.32e-12 05:34:30 7.7e-12 05:35:50 7.87e-12 05:37:10 7.5e-12 05:38:23 7.32e-12 05:39:40 7.7e-12 05:40:57 7.59e-12 05:42:10 7.3e-12 05:43:31 7.49e-12 05:45:12 6.97e-12 05:46:53 6.0e-12 05:48:38 7.49e-12 05:50:19 6.64e-12 05:52:01 7.49e-12 05:53:20 7.0e-12 05:54:34 6.97e-12 05:55:50 7.3e-12 05:57:08 7.23e-12 05:58:50 7.0e-12 06:00:33 7.14e-12 06:02:20 6.9e-12 06:03:59 7.06e-12 06:05:40 7.3e-12 06:07:22 7.14e-12 06:08:40 6.8e-12 06:09:56 6.89e-12 06:11:40 6.97e-12 06:13:22 6.64e-12 06:15:03 7.32e-12 06:17:37 7.68e-12 06:19:20 8.0e-12 06:21:02 8.66e-12 06:23:36 9.10e-12 06:25:20 8.7e-12 06:27:01 8.88e-12 06:29:35 9.32e-12 06:30:50 8.9e-12 06:32:09 8.06e-12 06:33:20 9.0e-12 06:34:42 9.32e-12 06:36:20 8.8e-12 06:38:05 8.99e-12 06:39:50 9.4e-12 06:41:31 9.21e-12 06:43:10 8.9e-12 06:44:56 9.10e-12 06:46:40 9.3e-12 06:48:19 9.55e-12 06:49:40 9.1e-12 06:50:53 9.32e-12 06:52:30 9.5e-12 06:54:19 8.88e-12 06:55:40 9.3e-12 06:56:52 9.55e-12 06:58:30 9.1e-12 07:00:18 9.21e-12 07:02:00 9.5e-12 07:03:41 9.32e-12 07:05:00 9.5e-12 07:06:14 8.99e-12 07:07:30 9.4e-12 07:08:48 9.66e-12 07:10:30 9.3e-12 07:12:14 9.55e-12 07:14:00 9.8e-12 07:15:50 9.4e-12 07:17:51 9.91e-12 07:19:40 9.5e-12 07:21:30 9.7e-12 07:23:00 9.4e-12 07:24:40 9.55e-12 07:26:30 9.8e-12 07:28:20 9.4e-12 07:30:10 9.75e-12 07:32:00 9.5e-12 07:34:00 9.9e-12 07:36:05 9.78e-12 07:38:20 9.5e-12 07:40:41 9.32e-12 07:43:00 9.8e-12 07:45:15 9.91e-12 07:47:20 9.6e-12 07:49:30 9.9e-12 07:51:38 1.0e-11
07:53 9.9e-12 07:55 9.6e-12 07:57 9.9e-12 07:59 9.55e-12 08:01 9.85e-12 08:03 9.32e-12 08:05 9.9e-12 08:07 9.7e-12 08:09 1.0e-11 08:11 9.4e-12 08:13 9.85e-12 08:15 9.6e-12 08:17 1.0e-11 08:19 9.7e-12 08:21 9.9e-12 08:23 9.3e-12 08:25 9.85e-12 08:27 9.6e-12 08:29 9.95e-12 08:31 9.7e-12 08:33 9.9e-12 08:35 9.5e-12 08:36:30 8.99e-12 08:38 9.7e-12 08:40 9.9e-12 08:42 9.6e-12 08:44 1.0e-11 08:46 9.7e-12 08:48 9.9e-12 08:50 9.8e-12 08:52 1.0e-11 08:54 9.6e-12 08:56 9.9e-12 08:58 9.7e-12 09:00 1.0e-11 09:02 9.8e-12 09:04 9.9e-12 09:06 9.5e-12 09:08 9.9e-12 09:10 9.7e-12 09:12 1.0e-11 09:14 9.8e-12 09:16 9.9e-12 09:18 9.4e-12 09:20 9.9e-12 09:22 1.0e-11 09:24 9.7e-12 09:26 9.9e-12 09:28 9.8e-12 09:30 1.0e-11 09:32 9.6e-12 09:34 9.9e-12 09:36 1.0e-11 09:38 9.8e-12 09:40 9.9e-12 09:42 9.6e-12 09:44 1.0e-11 09:46 9.8e-12 09:48 9.9e-12 09:50 9.7e-12 09:52 1.0e-11 09:54 9.8e-12 09:56 9.9e-12 09:58 9.4e-12 10:00 9.9e-12 10:02 9.8e-12 10:04 1.0e-11 10:06 9.7e-12 10:08 9.9e-12 10:10 9.8e-12 10:12 1.0e-11 10:14 9.6e-12 10:16 9.9e-12 10:18 9.8e-12 10:20 1.0e-11 10:22 9.7e-12 10:24 9.9e-12 10:26 9.8e-12 10:28 1.0e-11 10:30 9.5e-12 10:32 9.9e-12 10:34 9.8e-12 10:36 1.0e-11 10:38 9.7e-12 10:40 9.9e-12 10:42 9.8e-12 10:44 1.0e-11 10:46 9.6e-12 10:48 9.9e-12 10:50 9.8e-12 10:52 1.0e-11 10:54 9.7e-12 10:56 9.9e-12 10:58 9.8e-12 11:00 1.0e-11 11:02 9.8e-12 11:04 9.9e-12 11:06 9.7e-12 11:08 1.0e-11 11:10 9.8e-12 11:12 9.9e-12 11:14 9.6e-12 11:16 9.9e-12 11:18 9.3e-12 11:20 9.8e-12 11:22 9.9e-12 11:24 1.0e-11 11:26 9.7e-12 11:28 9.9e-12 11:30 9.8e-12 11:32 1.0e-11 11:34 9.8e-12 11:36 9.4e-12 11:38 9.9e-12 11:40 9.8e-12 11:42 1.0e-11 11:44 9.7e-12 11:46 9.9e-12 11:48 9.8e-12 11:50 1.0e-11 11:52 9.7e-12 11:54 9.9e-12 11:56 1.0e-11 11:58 9.8e-12 12:00:26 9.78e-12`);

// ---- 17/10: read on the intensity axis (units of 1e14)
const R_B1 = S(`04:38:58 0 05:22:10 0 05:23:11 0.0726 05:28:49 0.0726 05:29:20 0.104 05:31:38 0.140 05:33:56 0.206 05:35:59 0.304 05:38:33 0.435 05:40:35 0.438 05:41:37 0.551 05:44:11 0.555 06:11:19 0.552 06:38:57 0.546 07:10:41 0.540 09:00:00 0.534 12:00:26 0.527`);
const R_B2 = S(`04:38:58 0 05:22:10 0 05:23:11 0.0716 05:37:01 0.0716 05:37:31 0.077 05:39:34 0.206 05:41:37 0.29 05:46:13 0.417 05:51:52 0.419 05:54:25 0.435 05:55:57 0.494 05:56:28 0.54 05:58:00 0.551 06:04:39 0.551 07:51:38 0.543 12:00:26 0.536`);
const R_ENERGY = S(`04:38:58 0.064 06:01:56 0.064 06:03:07 0.073 06:04:49 0.101 06:06:02 0.136 06:06:33 0.206 06:14:53 0.606 06:21:48 0.927 12:00:26 0.927`);
const R_DOT_A = S(`04:38:58 0.140 06:03:59 0.140 06:05:41 0.131 06:13:22 0.122 06:31:16 0.122 06:32:49 0.177 06:36:42 0.238 06:42:32 0.396 06:48:10 0.606 07:06:23 0.946 12:00:26 0.946`);
const R_DOT_B = S(`04:38:58 0 07:09:30 0 07:09:40 0.0063 12:00:26 0.0063`);

// ---- annotations
const titleL = "6.5TeV, 25ns, 605b", titleR = "6.5TeV, 100ns, 685b";
const labelsL = [
  {text: "VGPB.237.7R1.R", t: "05:52:06", p: 4.60e-9},
  {text: "VGPB.237.7R1.B", t: "05:39:17", p: 1.76e-9},
  {text: "VGI.85.6R1.R", t: "06:11:28", p: 1.97e-10},
  {text: "VGI.85.6R1.B", t: "06:11:28", p: 4.25e-11}
];
const labelsR = [
  {text: "VGPB.237.7R1.R", t: "09:37:36", p: 1.156e-9},
  {text: "VGPB.237.7R1.B", t: "09:32:30", p: 4.70e-10},
  {text: "VGI.85.6R1.R", t: "09:50:54", p: 2.77e-11},
  {text: "VGI.85.6R1.B", t: "09:46:48", p: 1.28e-11}
];
const noteR = {text: "5x desorption", t: "06:45:48", p: 1.14e-10};
const arrows = [
  {from: ["R", "06:34:21", 1.42e-10], to: ["L", "04:21:58", 2.11e-10]},
  {from: ["R", "06:51:32", 1.01e-10], to: ["R", "06:35:22", 2.02e-11]}
];

// ---------------- layout & drawing ----------------
const H = 1095, MT = 26, MB = 119, FH = H - MT - MB;
const GEO = {
  L: {day: dayL, domain: domainL, width: 974, ml: 112, mr: 0.4, ticks: ticksL},
  R: {day: dayR, domain: domainR, width: 1920, ml: 973.6, mr: 84, ticks: ticksR}
};
const MAROON = "#5a0b0b", TXT = "#151515";
const FONT = "DejaVu Sans", LFONT = "Lato";
const T = (day, s) => new Date(`${day}T${s.length === 5 ? s + ":00" : s}Z`);
const rows = (day, arr) => arr.map(([t, v]) => ({t: T(day, t), v}));
const fmtTick = d3.utcFormat("%d/%m %H:%M");

function pressurePanel(key, opt) {
  const g = GEO[key], FW = g.width - g.ml - g.mr;
  const xt = g.ticks.map(s => T(g.day, s));
  const line = (arr, color, w) => Plot.line(rows(g.day, arr), {x: "t", y: "v", stroke: color, strokeWidth: w, clip: true});
  const marks = [
    Plot.text([opt.title], {frameAnchor: "top-left", dx: opt.titleDx, dy: opt.titleDy, textAnchor: "start", lineAnchor: "bottom", fontSize: 46, fontFamily: LFONT, fill: MAROON}),
    Plot.text(opt.labels, {x: d => T(g.day, d.t), y: "p", text: "text", textAnchor: "start", lineAnchor: "bottom", fontSize: 25, fontFamily: LFONT, fill: MAROON}),
    ...opt.series.map(([arr, c, w]) => line(arr, c, w)),
    Plot.ruleX(xt, {stroke: "black", strokeWidth: 1.2, insetTop: FH - 8}),
    Plot.ruleX(xt, {stroke: "black", strokeWidth: 1.2, insetBottom: FH - 8}),
    Plot.ruleY(logMajor, {stroke: "black", strokeWidth: 1.2, insetRight: FW - 9}),
    Plot.ruleY(logMinor, {stroke: "black", strokeWidth: 1.1, insetRight: FW - 5}),
    Plot.text(xt, {x: d => d, text: d => fmtTick(d), frameAnchor: "bottom", rotate: -30, textAnchor: "end", lineAnchor: "middle", dx: -5, dy: 19, fontSize: 20, fontFamily: FONT, fill: TXT}),
    Plot.text(["time"], {frameAnchor: "bottom", dy: 107, lineAnchor: "middle", fontSize: 20, fontFamily: FONT, fill: TXT}),
    Plot.frame({stroke: "black", strokeWidth: 2.6})
  ];
  if (opt.yLabels) {
    marks.push(
      Plot.text(logMajor, {y: d => d, text: (d, i) => logMajorLabels[i], frameAnchor: "left", textAnchor: "end", dx: -15, fontSize: 19, fontFamily: FONT, fill: TXT}),
      Plot.text(["p(mbar)"], {frameAnchor: "left", rotate: -90, dx: -79, fontSize: 20, fontFamily: FONT, fill: TXT})
    );
  }
  if (opt.note) {
    marks.push(Plot.text([opt.note], {x: d => T(g.day, d.t), y: "p", text: "text", textAnchor: "start", lineAnchor: "bottom", fontSize: 38, fontWeight: 600, fontFamily: LFONT, fill: MAROON}));
  }
  return Plot.plot({
    width: g.width, height: H, marginLeft: g.ml, marginRight: g.mr, marginTop: MT, marginBottom: MB,
    style: `background:${opt.bg};overflow:hidden;`,
    x: {type: "utc", domain: g.domain.map(s => T(g.day, s)), axis: null},
    y: {type: "log", domain: pDomain, axis: null},
    marks
  });
}

function intensityPanel(key, opt) {
  const g = GEO[key], FW = g.width - g.ml - g.mr;
  const dotted = arr => Plot.line(rows(g.day, arr), {x: "t", y: "v", stroke: "#222", strokeWidth: 1.7, strokeDasharray: "1.6,4.2", strokeLinecap: "butt", clip: true});
  const dashed = (arr, c) => Plot.line(rows(g.day, arr), {x: "t", y: "v", stroke: c, strokeWidth: 2.2, strokeDasharray: "9,6", strokeLinecap: "butt", clip: true});
  const marks = [
    dotted(opt.dotA), dotted(opt.dotB),
    Plot.line(rows(g.day, opt.energy), {x: "t", y: "v", stroke: "black", strokeWidth: 1.6, clip: true}),
    dashed(opt.b2, "#0000ff"), dashed(opt.b1, "#ff0000"),
    Plot.ruleY(intTicks, {stroke: "black", strokeWidth: 1.2, insetLeft: FW - 8}),
    Plot.text(["1e14"], {frameAnchor: "top-right", dx: opt.e14dx, dy: -5, textAnchor: "end", lineAnchor: "bottom", fontSize: 20, fontFamily: FONT, fill: TXT})
  ];
  if (opt.yLabels) {
    marks.push(
      Plot.text(intTicks, {y: d => d, text: (d, i) => intTickLabels[i], frameAnchor: "right", textAnchor: "start", dx: 6, fontSize: 20, fontFamily: FONT, fill: TXT}),
      Plot.text(["Intensity (protons)"], {frameAnchor: "right", rotate: -90, dx: 56, fontSize: 20, fontFamily: FONT, fill: TXT})
    );
  }
  return Plot.plot({
    width: g.width, height: H, marginLeft: g.ml, marginRight: g.mr, marginTop: MT, marginBottom: MB,
    style: "background:transparent;overflow:hidden;",
    x: {type: "utc", domain: g.domain.map(s => T(g.day, s)), axis: null},
    y: {type: "linear", domain: [0, 1], axis: null},
    marks
  });
}

const pR = pressurePanel("R", {
  bg: "white", title: titleR, titleDx: 377.4, titleDy: 52, labels: labelsR, note: noteR,
  series: [[R_VGPB_B, "#0000ff", 2.5], [R_VGI_B, "#0000ff", 2.5], [R_VGPB_R, "#ff0000", 2.5], [R_VGI_R, "#ff0000", 2.2]]
});
const iR = intensityPanel("R", {dotA: R_DOT_A, dotB: R_DOT_B, energy: R_ENERGY, b1: R_B1, b2: R_B2, e14dx: 0, yLabels: true});
const pL = pressurePanel("L", {
  bg: "white", title: titleL, titleDx: 46, titleDy: 54, labels: labelsL, yLabels: true,
  series: [[L_VGPB_B, "#0000ff", 2.6], [L_VGI_B, "#0000ff", 2.6], [L_VGPB_R, "#ff0000", 2.6], [L_VGI_R, "#ff0000", 2.6]]
});
const iL = intensityPanel("L", {dotA: L_DOT_A, dotB: L_DOT_B, energy: L_ENERGY, b1: L_B1, b2: L_B2, e14dx: -2.6});

// typographic touches on the rendered text: superscript exponents, wider label spacing
const SVGNS = "http://www.w3.org/2000/svg";
const curveNames = new Set([...labelsL, ...labelsR].map(d => d.text));
for (const svg of [pL, pR]) {
  svg.querySelectorAll("text").forEach(el => {
    const s = el.textContent;
    if (s.includes("^")) {
      const [base, exp] = s.split("^");
      el.textContent = "";
      const a = document.createElementNS(SVGNS, "tspan"); a.textContent = base; el.appendChild(a);
      const b = document.createElementNS(SVGNS, "tspan"); b.textContent = exp;
      b.setAttribute("dy", "-0.5em"); b.setAttribute("font-size", "13"); el.appendChild(b);
    } else if (curveNames.has(s)) {
      el.setAttribute("letter-spacing", "1.9");
    } else if (s === noteR.text) {
      el.setAttribute("letter-spacing", "0.6");
    }
  });
}

// pixel positions of annotation arrows, obtained through the panels' own scales
const panels = {L: pL, R: pR};
function toPx(plot, name, v) {
  const s = plot.scale(name);
  if (s && typeof s.apply === "function") return s.apply(v);
  const f = s.type === "log" ? d3.scaleLog(s.domain, s.range) : s.type === "utc" ? d3.scaleUtc(s.domain, s.range) : d3.scaleLinear(s.domain, s.range);
  return f(v);
}
const pt = ([k, t, p]) => [toPx(panels[k], "x", T(GEO[k].day, t)), toPx(panels[k], "y", p)];
const arrowPx = arrows.map(a => { const [x1, y1] = pt(a.from), [x2, y2] = pt(a.to); return {x1, y1, x2, y2}; });

const overlay = Plot.plot({
  width: 1920, height: H, margin: 0,
  style: "background:transparent;overflow:visible;",
  x: {type: "identity", axis: null}, y: {type: "identity", axis: null},
  marks: [
    Plot.arrow(arrowPx, {x1: "x1", y1: "y1", x2: "x2", y2: "y2", stroke: "black", strokeWidth: 3.6, headLength: 9, headAngle: 58})
  ]
});

const chart = document.getElementById("chart");
[pR, iR, pL, iL, overlay].forEach(el => chart.appendChild(el));
</script>
</body>
</html>
